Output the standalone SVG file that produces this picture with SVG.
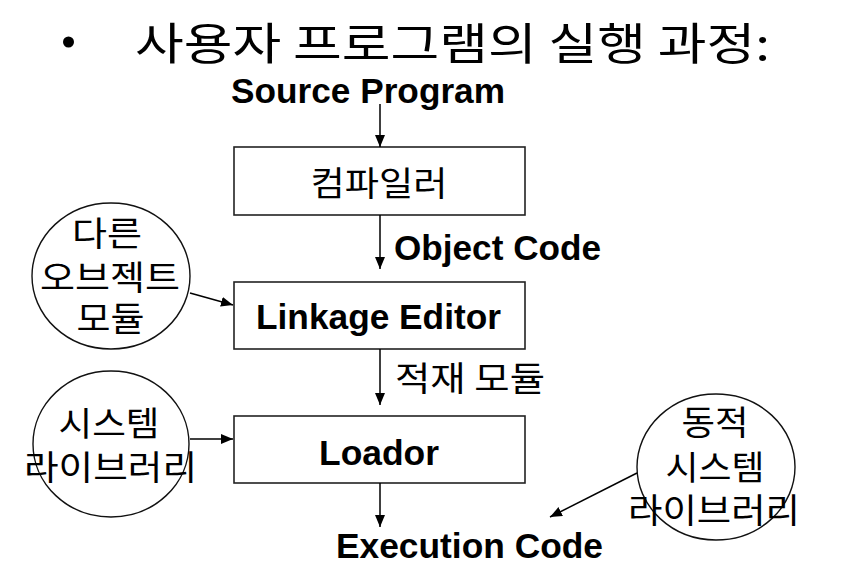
<svg xmlns="http://www.w3.org/2000/svg" width="852" height="572" viewBox="0 0 852 572">
<style>
.ko{font-family:"Noto Sans CJK KR","Noto Sans",sans-serif;fill:#000;}
.en{font-family:"Liberation Sans",Arial,sans-serif;font-weight:bold;font-size:35px;fill:#000;}
.box{fill:#fff;stroke:#222;stroke-width:1.6;}
.circ{fill:none;stroke:#111;stroke-width:1.4;}
.con{stroke:#000;stroke-width:1.5;fill:none;marker-end:url(#ah);}
</style>
<defs>
<marker id="ah" markerUnits="userSpaceOnUse" markerWidth="13" markerHeight="11" refX="12" refY="5" orient="auto">
<path d="M0,0 L12,5 L0,10 z" fill="#000"/>
</marker>
</defs>
<rect width="852" height="572" fill="#fff"/>
<g id="title">
<circle cx="68.5" cy="42" r="5.5" fill="#000"/>
<text class="ko" x="135" y="60" font-size="44" textLength="635" lengthAdjust="spacingAndGlyphs">사용자 프로그램의 실행 과정:</text>
</g>
<g id="source">
<text class="en" x="231" y="103" textLength="274" lengthAdjust="spacingAndGlyphs">Source Program</text>
</g>
<g id="compiler">
<rect class="box" x="234" y="147" width="291" height="68"/>
<text class="ko" x="379" y="196" font-size="34" text-anchor="middle" textLength="137" lengthAdjust="spacingAndGlyphs">컴파일러</text>
</g>
<g id="objcode">
<text class="en" x="394" y="260" textLength="207" lengthAdjust="spacingAndGlyphs">Object Code</text>
</g>
<g id="linkage">
<rect class="box" x="234" y="282" width="291" height="67"/>
<text class="en" x="256" y="329" textLength="245" lengthAdjust="spacingAndGlyphs">Linkage Editor</text>
</g>
<g id="loadmodule">
<text class="ko" x="470" y="391" font-size="34" text-anchor="middle" textLength="150" lengthAdjust="spacingAndGlyphs">적재 모듈</text>
</g>
<g id="loador">
<rect class="box" x="234" y="416" width="291" height="67"/>
<text class="en" x="319" y="465" textLength="120" lengthAdjust="spacingAndGlyphs">Loador</text>
</g>
<g id="execcode">
<text class="en" x="336" y="558" textLength="267" lengthAdjust="spacingAndGlyphs">Execution Code</text>
</g>
<g id="othermodule">
<ellipse class="circ" cx="111" cy="276" rx="79" ry="73"/>
<text class="ko" x="107" y="246" font-size="34" text-anchor="middle" textLength="70" lengthAdjust="spacingAndGlyphs">다른</text>
<text class="ko" x="110" y="290" font-size="34" text-anchor="middle" textLength="140" lengthAdjust="spacingAndGlyphs">오브젝트</text>
<text class="ko" x="110.5" y="331" font-size="34" text-anchor="middle" textLength="68" lengthAdjust="spacingAndGlyphs">모듈</text>
</g>
<g id="syslib">
<ellipse class="circ" cx="111" cy="444" rx="78" ry="73"/>
<text class="ko" x="109" y="436" font-size="34" text-anchor="middle" textLength="101" lengthAdjust="spacingAndGlyphs">시스템</text>
<text class="ko" x="110.5" y="480" font-size="34" text-anchor="middle" textLength="173" lengthAdjust="spacingAndGlyphs">라이브러리</text>
</g>
<g id="dynlib">
<ellipse class="circ" cx="716" cy="467" rx="79" ry="73"/>
<text class="ko" x="715" y="435" font-size="34" text-anchor="middle" textLength="67" lengthAdjust="spacingAndGlyphs">동적</text>
<text class="ko" x="715" y="480" font-size="34" text-anchor="middle" textLength="99" lengthAdjust="spacingAndGlyphs">시스템</text>
<text class="ko" x="714" y="523" font-size="34" text-anchor="middle" textLength="172" lengthAdjust="spacingAndGlyphs">라이브러리</text>
</g>
<g id="connectors">
<line class="con" x1="380" y1="104" x2="380" y2="147"/>
<line class="con" x1="380" y1="215" x2="380" y2="269"/>
<line class="con" x1="380" y1="349" x2="380" y2="405"/>
<line class="con" x1="380" y1="483" x2="380" y2="527"/>
<line class="con" x1="190" y1="293" x2="233" y2="305"/>
<line class="con" x1="190" y1="439" x2="233" y2="439"/>
<line class="con" x1="637" y1="473" x2="550" y2="517"/>
</g>
</svg>
